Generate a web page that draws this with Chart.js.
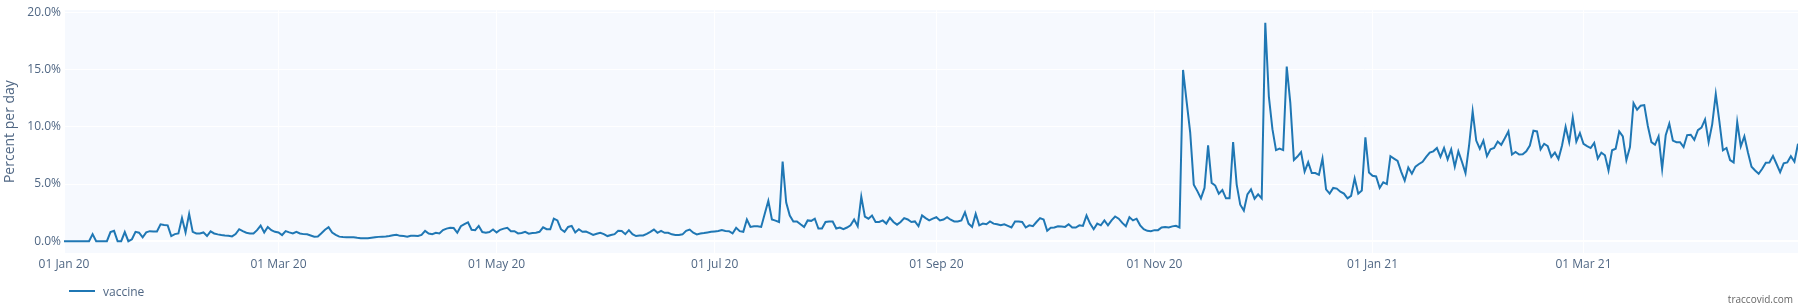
<!DOCTYPE html>
<html>
<head>
<meta charset="utf-8">
<script src="https://cdn.jsdelivr.net/npm/chart.js@4/dist/chart.umd.min.js"></script>
<style>
  html, body { margin: 0; padding: 0; background: #fff; }
  #wrap { position: relative; width: 1801px; height: 307px; font-family: "Open Sans", sans-serif; }
  #legend { position: absolute; left: 69px; top: 282px; height: 18px; display: flex; align-items: center; color: #506784; font-size: 12px; }
  #legend .swatch { width: 26px; height: 2px; background: #1f77b4; margin-right: 8px; }
  #credit { position: absolute; right: 8px; top: 292px; font-size: 10px; color: #666; }
</style>
</head>
<body>
<div id="wrap">
  <canvas id="vaccineChart"></canvas>
  <div id="legend"><span class="swatch"></span><span>vaccine</span></div>
  <div id="credit">traccovid.com</div>
</div>
<script>
// daily values from 2020-01-01, percent per day
const startDate = '2020-01-01';
const seriesName = 'vaccine';
const vaccine = [
  0, 0, 0, 0, 0, 0, 0, 0, 0.62, 0,
  0, 0, 0, 0.8, 0.91, 0, 0, 0.8, 0, 0.17,
  0.82, 0.74, 0.34, 0.77, 0.88, 0.86, 0.86, 1.48, 1.42, 1.39,
  0.45, 0.62, 0.68, 2.02, 0.77, 2.39, 0.82, 0.68, 0.68, 0.77,
  0.45, 0.86, 0.68, 0.6, 0.54, 0.5, 0.48, 0.42, 0.62, 1.05,
  0.88, 0.74, 0.68, 0.68, 0.97, 1.37, 0.77, 1.25, 0.97, 0.82,
  0.77, 0.54, 0.88, 0.77, 0.68, 0.82, 0.68, 0.62, 0.6, 0.5,
  0.4, 0.42, 0.7, 1.0, 1.22, 0.75, 0.55, 0.4, 0.36, 0.34,
  0.34, 0.34, 0.3, 0.27, 0.26, 0.26, 0.3, 0.34, 0.38, 0.4,
  0.42, 0.45, 0.52, 0.57, 0.47, 0.45, 0.4, 0.48, 0.48, 0.45,
  0.55, 0.9, 0.68, 0.62, 0.74, 0.68, 0.97, 1.1, 1.17, 1.15,
  0.74, 1.31, 1.5, 1.66, 1.0, 0.97, 1.34, 0.8, 0.74, 0.8,
  1.02, 0.77, 1.0, 1.1, 1.17, 0.88, 0.88, 0.68, 0.72, 0.82,
  0.66, 0.72, 0.74, 0.82, 1.22, 1.05, 1.05, 1.97, 1.82, 1.05,
  0.82, 1.25, 1.34, 0.77, 1.05, 0.82, 0.85, 0.7, 0.55, 0.65,
  0.74, 0.62, 0.45, 0.55, 0.62, 0.91, 0.9, 0.62, 0.97, 0.62,
  0.45, 0.5, 0.5, 0.65, 0.82, 1.02, 0.74, 0.91, 0.74, 0.74,
  0.6, 0.55, 0.55, 0.6, 0.91, 1.02, 0.75, 0.6, 0.68, 0.72,
  0.77, 0.82, 0.86, 0.9, 0.97, 0.9, 0.88, 0.68, 1.17, 0.88,
  0.82, 1.9, 1.25, 1.31, 1.31, 1.25, 2.4, 3.53, 1.9, 1.8,
  1.68, 6.97, 3.38, 2.25, 1.73, 1.73, 1.48, 1.25, 1.82, 1.78,
  1.97, 1.11, 1.11, 1.68, 1.73, 1.73, 1.11, 1.2, 1.05, 1.2,
  1.39, 1.9, 1.31, 3.9, 2.16, 1.97, 2.25, 1.68, 1.68, 1.82,
  1.54, 2.05, 1.68, 1.45, 1.68, 2.02, 1.9, 1.68, 1.73, 1.31,
  2.25, 2.02, 1.82, 1.97, 2.1, 1.82, 1.9, 2.1, 1.88, 1.73,
  1.73, 1.82, 2.53, 1.54, 1.25, 2.39, 1.39, 1.54, 1.48, 1.73,
  1.54, 1.48, 1.39, 1.48, 1.34, 1.2, 1.73, 1.73, 1.68, 1.2,
  1.39, 1.31, 1.68, 2.02, 1.9, 0.91, 1.17, 1.2, 1.31, 1.28,
  1.25, 1.48, 1.2, 1.2, 1.39, 1.34, 2.25, 1.54, 1.05, 1.54,
  1.39, 1.82, 1.39, 1.82, 2.16, 1.97, 1.6, 1.31, 2.1, 1.82,
  1.97, 1.39, 1.05, 0.91, 0.88, 0.97, 0.97, 1.2, 1.25, 1.2,
  1.3, 1.35, 1.2, 14.98, 12.2, 9.5, 4.95, 4.38, 3.75, 4.66,
  8.38, 5.1, 4.87, 4.16, 4.47, 3.75, 3.75, 8.66, 4.95, 3.19,
  2.68, 4.1, 4.53, 3.72, 4.1, 3.75, 19.1, 12.65, 9.8, 7.97,
  8.1, 7.97, 15.27, 12.1, 7.1, 7.4, 7.8, 6.09, 6.9, 5.96,
  5.96, 5.8, 7.23, 4.53, 4.16, 4.66, 4.6, 4.33, 4.16, 3.75,
  3.96, 5.5, 4.16, 4.44, 9.08, 6.0, 5.72, 5.66, 4.66, 5.15,
  5.0, 7.43, 7.23, 7.03, 6.09, 5.3, 6.44, 5.9, 6.52, 6.75,
  6.95, 7.37, 7.75, 7.86, 8.15, 7.37, 8.15, 7.15, 8.03, 6.52,
  7.86, 6.95, 5.95, 8.37, 11.36, 8.8, 8.09, 8.8, 7.43, 8.03,
  8.15, 8.71, 8.43, 9.0, 9.6, 7.58, 7.8, 7.58, 7.6, 7.86,
  8.37, 9.66, 9.6, 8.03, 8.52, 8.32, 7.37, 7.75, 7.18, 8.37,
  10.0, 8.66, 10.8, 8.71, 9.46, 8.52, 8.32, 8.15, 8.6, 7.23,
  7.75, 7.52, 6.18, 7.95, 8.09, 9.6, 9.17, 7.09, 8.23, 12.07,
  11.5, 11.85, 11.9, 10.08, 8.66, 8.43, 9.17, 6.33, 9.28, 10.28,
  8.8, 8.66, 8.66, 8.23, 9.28, 9.31, 8.86, 9.71, 9.94, 10.65,
  8.66, 10.22, 12.87, 10.5, 7.95, 8.15, 7.09, 6.89, 10.42, 8.29,
  9.17, 7.75, 6.52, 6.18, 5.9, 6.33, 6.87, 6.89, 7.46, 6.75,
  6.04, 6.81, 6.89, 7.43, 6.95, 8.52
];

// x ticks: day offsets from startDate and their labels
const tickDays = [0, 60, 121, 182, 244, 305, 366, 425];
const tickLabels = ['01 Jan 20', '01 Mar 20', '01 May 20', '01 Jul 20', '01 Sep 20', '01 Nov 20', '01 Jan 21', '01 Mar 21'];
const yTicks = [0, 5, 10, 15, 20];

// categories: one date per value
const dates = vaccine.map(function(v, i) {
    const d = new Date(startDate + 'T00:00:00Z');
    d.setUTCDate(d.getUTCDate() + i);
    return d.toISOString().slice(0, 10);
});

const plotBg = {
    id: 'plotBg',
    beforeDraw: function(chart) {
        const a = chart.chartArea;
        const c = chart.ctx;
        c.save();
        c.fillStyle = '#f6f9fe';
        c.fillRect(a.left, a.top, a.right - a.left, a.bottom - a.top);
        c.restore();
    }
};

const ctx = document.getElementById('vaccineChart');
new Chart(ctx, {
    type: 'line',
    data: {
        datasets: [{
            label: seriesName,
            data: vaccine.map(function(v, i) { return { x: i, y: v, date: dates[i] }; }),
            borderColor: '#1f77b4',
            backgroundColor: '#1f77b4',
            borderWidth: 2,
            pointRadius: 0,
            tension: 0,
            fill: false
        }]
    },
    options: {
        responsive: true,
        maintainAspectRatio: false,
        animation: false,
        layout: { padding: { top: 5, right: 3, left: 0, bottom: 0 } },
        plugins: {
            legend: { display: false },
            tooltip: { enabled: false }
        },
        scales: {
            x: {
                type: 'linear',
                min: 0,
                max: vaccine.length - 1,
                afterFit: function(s) { s.height = 54; },
                afterBuildTicks: function(s) { s.ticks = tickDays.map(function(v) { return { value: v }; }); },
                grid: { color: '#ffffff', lineWidth: 1, drawTicks: false },
                border: { display: false },
                ticks: {
                    padding: 4,
                    maxRotation: 0,
                    autoSkip: false,
                    color: '#506784',
                    font: { family: 'Open Sans', size: 12 },
                    callback: function(v) { return tickLabels[tickDays.indexOf(v)]; }
                }
            },
            y: {
                min: -1.03,
                max: 20.2,
                afterFit: function(s) { s.width = 64; },
                afterBuildTicks: function(s) { s.ticks = yTicks.map(function(v) { return { value: v }; }); },
                grid: {
                    drawTicks: false,
                    color: '#ffffff',
                    lineWidth: function(c) { return c.tick && c.tick.value === 0 ? 2 : 1; }
                },
                border: { display: false },
                ticks: {
                    padding: 3,
                    color: '#506784',
                    font: { family: 'Open Sans', size: 12 },
                    callback: function(v) { return v.toFixed(1) + '%'; }
                },
                title: {
                    display: true,
                    text: 'Percent per day',
                    color: '#506784',
                    font: { family: 'Open Sans', size: 14 },
                    padding: { top: 2, bottom: 0 }
                }
            }
        }
    },
    plugins: [plotBg]
});
</script>
</body>
</html>
